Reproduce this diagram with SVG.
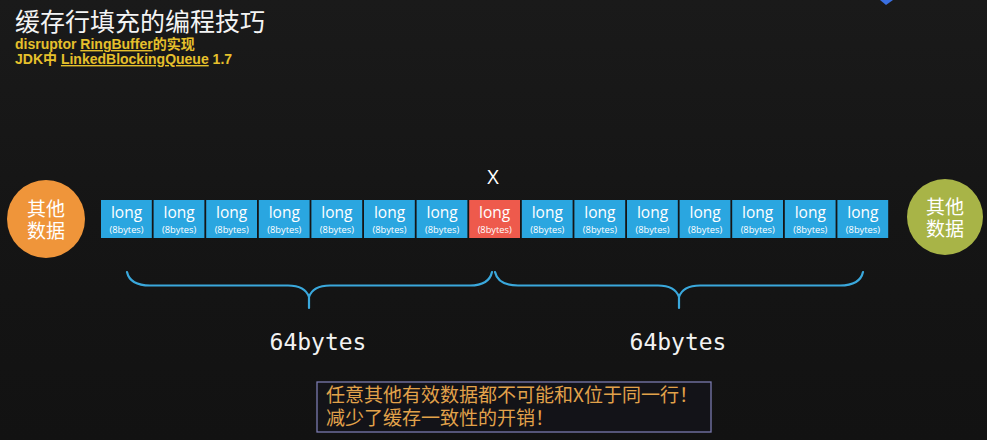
<svg xmlns="http://www.w3.org/2000/svg" width="987" height="440" viewBox="0 0 987 440">
<style>
.cell{fill:#2AA6E0}
.hot{fill:#EE5A4C}
.big{font-family:"Open Sans","Noto Sans",sans-serif;font-size:15.5px;fill:#ffffff;text-anchor:middle}
.small{font-family:"Open Sans","Noto Sans",sans-serif;font-size:9.3px;fill:#ffffff;text-anchor:middle}
.brace{fill:none;stroke:#3AA8DC;stroke-width:2.2;stroke-linecap:round}
.cjkw{font-family:"Noto Sans CJK SC","Noto Sans",sans-serif;fill:#ffffff;text-anchor:middle;font-size:19px}
.sub{font-family:"Liberation Sans","Noto Sans CJK SC",sans-serif;font-weight:bold;font-size:14px;fill:#E6C02C}
.mono{font-family:"DejaVu Sans Mono","Liberation Mono",monospace;font-size:23px;fill:#f2f2f2;text-anchor:middle}
.note{font-family:"Noto Sans CJK SC",sans-serif;font-size:19px;fill:#E2A24A}
</style>
<defs>
<linearGradient id="bg" x1="0" y1="0" x2="0" y2="1">
<stop offset="0" stop-color="#1a1a1a"/>
<stop offset="0.5" stop-color="#151515"/>
<stop offset="1" stop-color="#121212"/>
</linearGradient>
</defs>
<rect x="0" y="0" width="987" height="440" fill="url(#bg)"/>
<polygon points="880,0 893,0 886,5" fill="#3A6FE0"/>

<g id="title">
<text x="15" y="31" font-family="Noto Sans CJK SC, sans-serif" font-size="25" fill="#f4f4f4">缓存行填充的编程技巧</text>
<text class="sub" x="15" y="49">disruptor <tspan text-decoration="underline">RingBuffer</tspan>的实现</text>
<text class="sub" x="15" y="64">JDK中 <tspan text-decoration="underline">LinkedBlockingQueue</tspan> 1.7</text>
</g>

<g id="left-other">
<circle cx="46" cy="219" r="39" fill="#EF953A"/>
<text class="cjkw" x="46" y="216">其他</text>
<text class="cjkw" x="46" y="238">数据</text>
</g>
<g id="right-other">
<circle cx="945" cy="217" r="38" fill="#A8B447"/>
<text class="cjkw" x="945" y="214">其他</text>
<text class="cjkw" x="945" y="236">数据</text>
</g>

<g id="cell0"><rect class="cell" x="101" y="200" width="50.8" height="38"/><text class="big" x="126.5" y="218">long</text><text class="small" x="126.5" y="233">(8bytes)</text></g>
<g id="cell1"><rect class="cell" x="153.6" y="200" width="50.8" height="38"/><text class="big" x="179.1" y="218">long</text><text class="small" x="179.1" y="233">(8bytes)</text></g>
<g id="cell2"><rect class="cell" x="206.2" y="200" width="50.8" height="38"/><text class="big" x="231.7" y="218">long</text><text class="small" x="231.7" y="233">(8bytes)</text></g>
<g id="cell3"><rect class="cell" x="258.8" y="200" width="50.8" height="38"/><text class="big" x="284.3" y="218">long</text><text class="small" x="284.3" y="233">(8bytes)</text></g>
<g id="cell4"><rect class="cell" x="311.4" y="200" width="50.8" height="38"/><text class="big" x="336.9" y="218">long</text><text class="small" x="336.9" y="233">(8bytes)</text></g>
<g id="cell5"><rect class="cell" x="364" y="200" width="50.8" height="38"/><text class="big" x="389.5" y="218">long</text><text class="small" x="389.5" y="233">(8bytes)</text></g>
<g id="cell6"><rect class="cell" x="416.6" y="200" width="50.8" height="38"/><text class="big" x="442.1" y="218">long</text><text class="small" x="442.1" y="233">(8bytes)</text></g>
<g id="cell7-x"><rect class="hot" x="469.2" y="200" width="50.8" height="38"/><text class="big" x="494.7" y="218">long</text><text class="small" x="494.7" y="233">(8bytes)</text>
<text x="493" y="184" font-family="Open Sans, Noto Sans, sans-serif" font-size="20" fill="#ffffff" text-anchor="middle">X</text></g>
<g id="cell8"><rect class="cell" x="521.8" y="200" width="50.8" height="38"/><text class="big" x="547.3" y="218">long</text><text class="small" x="547.3" y="233">(8bytes)</text></g>
<g id="cell9"><rect class="cell" x="574.4" y="200" width="50.8" height="38"/><text class="big" x="599.9" y="218">long</text><text class="small" x="599.9" y="233">(8bytes)</text></g>
<g id="cell10"><rect class="cell" x="627" y="200" width="50.8" height="38"/><text class="big" x="652.5" y="218">long</text><text class="small" x="652.5" y="233">(8bytes)</text></g>
<g id="cell11"><rect class="cell" x="679.6" y="200" width="50.8" height="38"/><text class="big" x="705.1" y="218">long</text><text class="small" x="705.1" y="233">(8bytes)</text></g>
<g id="cell12"><rect class="cell" x="732.2" y="200" width="50.8" height="38"/><text class="big" x="757.7" y="218">long</text><text class="small" x="757.7" y="233">(8bytes)</text></g>
<g id="cell13"><rect class="cell" x="784.8" y="200" width="50.8" height="38"/><text class="big" x="810.3" y="218">long</text><text class="small" x="810.3" y="233">(8bytes)</text></g>
<g id="cell14"><rect class="cell" x="837.4" y="200" width="50.8" height="38"/><text class="big" x="862.9" y="218">long</text><text class="small" x="862.9" y="233">(8bytes)</text></g>

<g id="connectors">
<path class="brace" d="M127,272 Q130,285.5 150,285.5 L288,285.5 Q305,285.5 309,297 L309,308 M309,297 Q313,285.5 330,285.5 L470,285.5 Q489,285.5 492,272"/>
<path class="brace" d="M495,272 Q498,285.5 518,285.5 L658,285.5 Q675,285.5 679,297 L679,308 M679,297 Q683,285.5 700,285.5 L840,285.5 Q860,285.5 863,272"/>
</g>

<g id="label-left"><text class="mono" x="318" y="350">64bytes</text></g>
<g id="label-right"><text class="mono" x="678" y="350">64bytes</text></g>

<g id="note">
<rect x="317" y="382" width="394" height="50" fill="#131318" stroke="#7A7AAE" stroke-width="1.3"/>
<text class="note" x="326" y="402">任意其他有效数据都不可能和X位于同一行！</text>
<text class="note" x="326" y="425">减少了缓存一致性的开销！</text>
</g>
</svg>
